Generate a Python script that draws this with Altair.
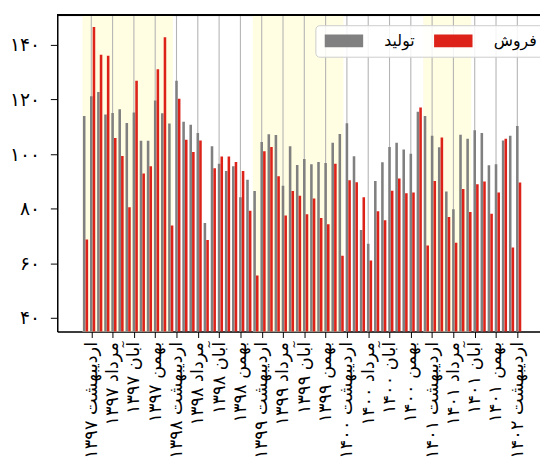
import altair as alt
import pandas as pd

# ---------------- data ----------------
month_index = list(range(62))  # Farvardin 1397 .. Ordibehesht 1402

production = [114.0, 121.2, 122.7, 114.5, 115.1, 116.4, 111.4, 115.2, 104.9, 104.9,
              119.6, 115.0, 111.2, 126.9, 111.9, 110.8, 107.7, 74.8, 102.9, 96.5,
              93.8, 95.6, 84.2, 90.6, 86.5, 104.4, 107.3, 107.0, 88.4, 102.9,
              96.0, 98.2, 96.3, 97.1, 96.8, 104.2, 107.4, 111.3, 99.2, 72.2,
              67.2, 90.2, 97.0, 102.6, 104.2, 101.7, 100.1, 115.5, 114.0, 106.7,
              102.5, 86.3, 79.8, 107.1, 105.6, 108.7, 107.7, 95.9, 96.3, 105.0,
              106.7, 110.3]

sales = [68.8, 146.5, 136.4, 136.0, 105.9, 99.3, 80.6, 126.9, 92.9, 95.6,
         131.1, 142.8, 73.9, 120.3, 105.3, 100.8, 105.0, 68.6, 94.8, 99.1,
         99.1, 97.1, 93.8, 79.3, 55.6, 101.1, 102.6, 91.9, 77.5, 86.5,
         84.8, 78.0, 83.8, 76.6, 74.3, 96.5, 62.8, 90.4, 89.7, 84.2,
         61.1, 79.1, 75.8, 86.6, 91.1, 85.7, 86.0, 117.1, 66.6, 90.2,
         106.1, 77.0, 67.6, 87.2, 78.8, 89.0, 90.0, 78.2, 86.0, 105.6,
         65.8, 89.6]

series_names = ["تولید", "فروش"]
series_colors = ["#808080", "#dc2219"]

tick_values = [1, 4, 7, 10, 13, 16, 19, 22, 25, 28, 31, 34, 37, 40, 43, 46, 49, 52, 55, 58, 61]
tick_labels = ["اردیبهشت ۱۳۹۷", "مرداد ۱۳۹۷", "آبان ۱۳۹۷", "بهمن ۱۳۹۷",
               "اردیبهشت ۱۳۹۸", "مرداد ۱۳۹۸", "آبان ۱۳۹۸", "بهمن ۱۳۹۸",
               "اردیبهشت ۱۳۹۹", "مرداد ۱۳۹۹", "آبان ۱۳۹۹", "بهمن ۱۳۹۹",
               "اردیبهشت ۱۴۰۰", "مرداد ۱۴۰۰", "آبان ۱۴۰۰", "بهمن ۱۴۰۰",
               "اردیبهشت ۱۴۰۱", "مرداد ۱۴۰۱", "آبان ۱۴۰۱", "بهمن ۱۴۰۱",
               "اردیبهشت ۱۴۰۲"]

y_ticks = [40, 60, 80, 100, 120, 140]
y_tick_labels = ["۴۰", "۶۰", "۸۰", "۱۰۰", "۱۲۰", "۱۴۰"]

shade_start = [-0.25, 23.75, 47.75]
shade_end = [12.5, 36.5, 54.5]

# ---------------- tables ----------------
bars = pd.DataFrame({
    "i": month_index * 2,
    "value": production + sales,
    "series": [series_names[0]] * len(production) + [series_names[1]] * len(sales),
})
ticks_df = pd.DataFrame({"tv": tick_values})
shade_df = pd.DataFrame({"s": shade_start, "e": shade_end})

W, H = 490, 321
FONT = "DejaVu Sans"

x_scale = alt.Scale(domain=[-3.1, 63.5], nice=False, zero=False)
y_scale = alt.Scale(domain=[35.05, 150.8], nice=False, zero=False)

x_expr = " : ".join(f"datum.value == {v} ? '{l}'" for v, l in zip(tick_values, tick_labels)) + " : ''"
y_expr = " : ".join(f"datum.value == {v} ? '{l}'" for v, l in zip(y_ticks, y_tick_labels)) + " : ''"

x_axis = alt.Axis(values=tick_values, labelExpr=x_expr, labelAngle=270, labelFont=FONT,
                  labelFontSize=18, labelColor="black", tickSize=6, tickColor="black",
                  domainColor="black", domainWidth=1.5, grid=False, title=None, labelPadding=4)
y_axis = alt.Axis(values=y_ticks, labelExpr=y_expr, labelFont=FONT, labelFontSize=19,
                  labelColor="black", tickSize=7, tickColor="black", domainColor="black",
                  domainWidth=1.5, grid=False, title=None, labelPadding=11)

shade = alt.Chart(shade_df).mark_rect(color="#fffde2").encode(
    x=alt.X("s:Q", scale=x_scale, axis=x_axis),
    x2="e:Q",
    y=alt.value(0),
    y2=alt.value(H),
)

grid = alt.Chart(ticks_df).mark_rule(color="#b4b4b4", strokeWidth=1.1).encode(
    x=alt.X("tv:Q", scale=x_scale, axis=x_axis),
    y=alt.value(0),
    y2=alt.value(H),
)

color = alt.Color("series:N",
                  scale=alt.Scale(domain=series_names, range=series_colors),
                  legend=alt.Legend(title=None, orient="none", legendX=262, legendY=10,
                                    direction="horizontal",
                                    symbolType="M-1,-1H5V1H-1Z", symbolSize=169,
                                    symbolStrokeWidth=0, labelFont=FONT, labelFontSize=16,
                                    labelColor="black", labelOffset=46, columnPadding=18,
                                    padding=8, strokeColor="#cccccc",
                                    fillColor="rgba(255,255,255,0.85)", cornerRadius=4))

gray_bars = alt.Chart(bars).transform_filter(
    alt.datum.series == series_names[0]
).mark_bar(width=2.6, clip=True).encode(
    x=alt.X("i:Q", scale=x_scale, axis=x_axis),
    y=alt.Y("value:Q", scale=y_scale, axis=y_axis),
    color=color,
)

red_bars = alt.Chart(bars).transform_filter(
    alt.datum.series == series_names[1]
).mark_bar(width=2.6, xOffset=2.7, clip=True).encode(
    x=alt.X("i:Q", scale=x_scale, axis=x_axis),
    y=alt.Y("value:Q", scale=y_scale, axis=y_axis),
    color=color,
)

top_spine = alt.Chart(ticks_df).mark_rule(color="black", strokeWidth=1.5).encode(
    x=alt.value(0), x2=alt.value(W), y=alt.value(0)
)

chart = alt.layer(shade, grid, gray_bars, red_bars, top_spine).properties(
    width=W, height=H,
    padding={"left": 50, "top": 4, "right": 0, "bottom": 135},
    autosize=alt.AutoSizeParams(type="none"),
).configure_view(stroke=None).configure(background="white")

chart.save("out.html", embed_options={"renderer": "svg", "actions": False})
